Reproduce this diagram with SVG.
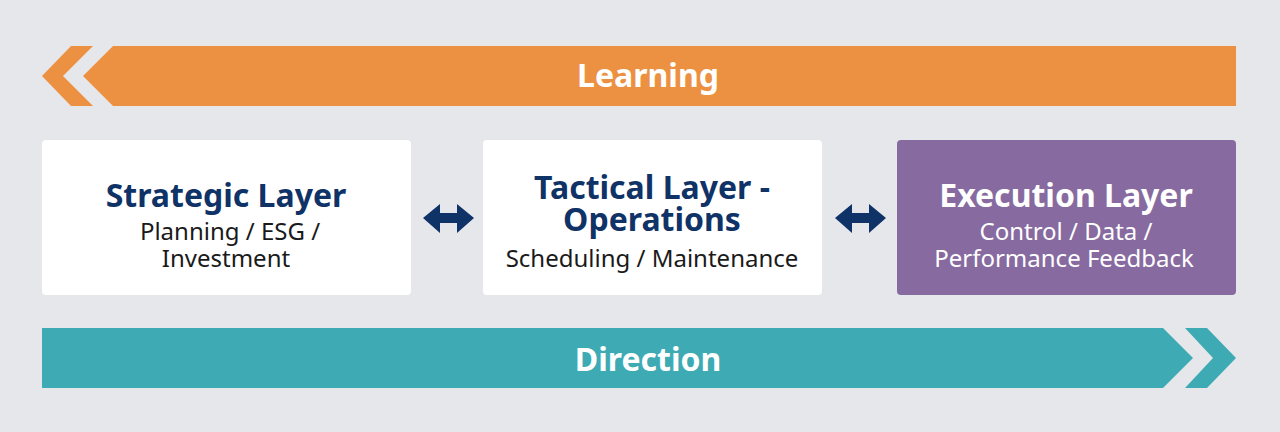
<svg xmlns="http://www.w3.org/2000/svg" width="1280" height="432" viewBox="0 0 1280 432">
<style>
text{font-family:"Noto Sans","Open Sans",sans-serif;text-anchor:middle}
.band{font-size:32px;font-weight:bold;fill:#fff}
.t{font-size:32px;font-weight:bold;fill:#0f3267}
.s{font-size:24px;fill:#1a1a1a}
.w{fill:#fff}
.box{fill:#fff}
.dbl{fill:#0f3267}
</style>
<defs>
<path id="dbl" d="M0,14 L17,0 L17,9 L34,9 L34,0 L51,14 L34,29 L34,19 L17,19 L17,29 Z"/>
</defs>
<rect width="1280" height="432" fill="#e6e7eb"/>
<g id="learning">
<polygon points="71,46 93,46 63,76 93,106 71,106 42,76" fill="#ec9142"/>
<polygon points="113,46 1236,46 1236,106 113,106 83,76" fill="#ec9142"/>
<text class="band" x="648" y="87">Learning</text>
</g>
<g id="direction">
<polygon points="42,328 1163,328 1193,358 1163,388 42,388" fill="#3eaab3"/>
<polygon points="1185,328 1207,328 1236,358 1207,388 1185,388 1213,358" fill="#3eaab3"/>
<text class="band" x="648" y="371">Direction</text>
</g>
<g id="strategic">
<rect class="box" x="42" y="140" width="369" height="155" rx="4"/>
<text class="t" x="226" y="207">Strategic Layer</text>
<text class="s" x="230" y="240">Planning / ESG /</text>
<text class="s" x="226" y="267">Investment</text>
</g>
<g id="tactical">
<rect class="box" x="483" y="140" width="339" height="155" rx="4"/>
<text class="t" x="652" y="199">Tactical Layer -</text>
<text class="t" x="652" y="231">Operations</text>
<text class="s" x="652" y="267">Scheduling / Maintenance</text>
</g>
<g id="execution">
<rect x="897" y="140" width="339" height="155" rx="4" fill="#876a9f"/>
<text class="band" x="1066" y="207">Execution Layer</text>
<text class="s w" x="1066" y="240">Control / Data /</text>
<text class="s w" x="1064" y="267">Performance Feedback</text>
</g>
<g id="connectors">
<use href="#dbl" x="423" y="204" class="dbl"/>
<use href="#dbl" x="835" y="204" class="dbl"/>
</g>
</svg>
